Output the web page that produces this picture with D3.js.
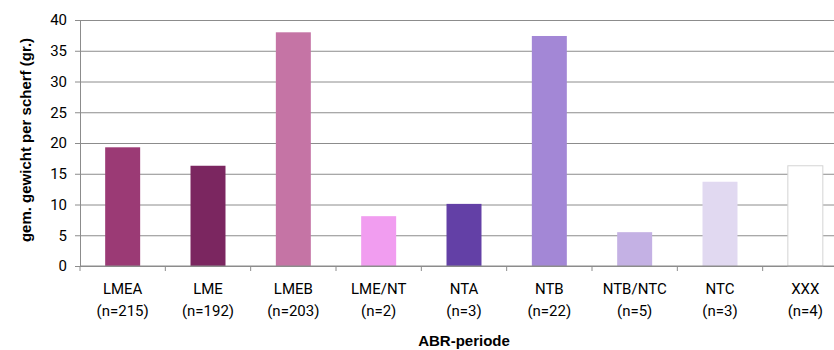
<!DOCTYPE html>
<html>
<head>
<meta charset="utf-8">
<script src="https://cdn.jsdelivr.net/npm/d3@7"></script>
<style>
    body { margin: 0; background: #fff; }
    svg text { font-family: Roboto, "Liberation Sans", sans-serif; fill: #000; }
    svg text.title { font-family: "Liberation Sans", Arial, sans-serif; font-weight: bold; }
    .grid line { stroke: #8c8c8c; stroke-width: 1; }
    .grid .domain { display: none; }
    .axis path, .axis line { stroke: #8c8c8c; }
</style>
</head>
<body>
<div id="chart"></div>
<script>
// chart data
var categories = ["LMEA", "LME", "LMEB", "LME/NT", "NTA", "NTB", "NTB/NTC", "NTC", "XXX"];
var counts = ["(n=215)", "(n=192)", "(n=203)", "(n=2)", "(n=3)", "(n=22)", "(n=5)", "(n=3)", "(n=4)"];
var weights = [19.3, 16.3, 38.0, 8.1, 10.1, 37.4, 5.5, 13.7, 16.3];
var barColors = ["#9b3a75", "#7b2660", "#c574a5", "#f19df0", "#6340a6", "#a387d6", "#c4b1e4", "#e1d9f1", "#ffffff"];
var yTicks = [0, 5, 10, 15, 20, 25, 30, 35, 40];

var svgWidth = 834, svgHeight = 350;
var margin = {top: 20, right: -14, bottom: 84, left: 80};
var width = svgWidth - margin.left - margin.right;
var height = svgHeight - margin.top - margin.bottom;

var svg = d3.select("#chart").append("svg")
    .attr("width", svgWidth)
    .attr("height", svgHeight);

var g = svg.append("g")
    .attr("transform", "translate(" + margin.left + "," + margin.top + ")");

var x = d3.scaleBand()
    .domain(categories)
    .range([0, width])
    .paddingInner(0.59)
    .paddingOuter(0.295);

var y = d3.scaleLinear()
    .domain([0, 40])
    .range([height, 0]);

// horizontal gridlines
g.append("g")
    .attr("class", "grid")
    .call(d3.axisLeft(y).tickValues(yTicks).tickSize(-width).tickFormat(""));

// bars
g.selectAll(".bar")
    .data(weights)
    .enter().append("rect")
    .attr("class", "bar")
    .attr("x", function (d, i) { return x(categories[i]); })
    .attr("y", function (d) { return y(d); })
    .attr("width", x.bandwidth())
    .attr("height", function (d) { return height - y(d); })
    .attr("fill", function (d, i) { return barColors[i]; })
    .attr("stroke", function (d, i) { return i === 8 ? "#d4d4d4" : "none"; })
    .attr("stroke-width", 1);

// y axis
var yAxis = g.append("g")
    .attr("class", "axis")
    .call(d3.axisLeft(y).tickValues(yTicks).tickSize(5).tickPadding(8).tickSizeOuter(0));
yAxis.selectAll("text").attr("font-size", 15);

// x axis: baseline plus tick marks at band boundaries
var xAxisG = g.append("g")
    .attr("class", "axis")
    .attr("transform", "translate(0," + height + ")");
xAxisG.append("line")
    .attr("x1", 0).attr("x2", width)
    .attr("y1", 0).attr("y2", 0);
xAxisG.selectAll(".tickmark")
    .data(d3.range(categories.length + 1))
    .enter().append("line")
    .attr("class", "tickmark")
    .attr("x1", function (i) { return i * x.step(); })
    .attr("x2", function (i) { return i * x.step(); })
    .attr("y1", 0).attr("y2", 5);

var labels = xAxisG.selectAll(".xlabel")
    .data(categories)
    .enter().append("text")
    .attr("class", "xlabel")
    .attr("text-anchor", "middle")
    .attr("font-size", 15)
    .attr("x", function (c) { return x(c) + x.bandwidth() / 2; });
labels.append("tspan")
    .attr("x", function (c) { return x(c) + x.bandwidth() / 2; })
    .attr("y", 28)
    .text(function (c) { return c; });
labels.append("tspan")
    .attr("x", function (c) { return x(c) + x.bandwidth() / 2; })
    .attr("y", 50)
    .text(function (c, i) { return counts[i]; });

// axis titles
g.append("text")
    .attr("class", "title")
    .attr("text-anchor", "middle")
    .attr("font-size", 15)
    .attr("x", width / 2)
    .attr("y", height + 80)
    .text("ABR-periode");

g.append("text")
    .attr("class", "title")
    .attr("text-anchor", "middle")
    .attr("font-size", 15)
    .attr("transform", "translate(" + (-49) + "," + (height / 2 - 3) + ") rotate(-90)")
    .text("gem. gewicht per scherf (gr.)");
</script>
</body>
</html>
